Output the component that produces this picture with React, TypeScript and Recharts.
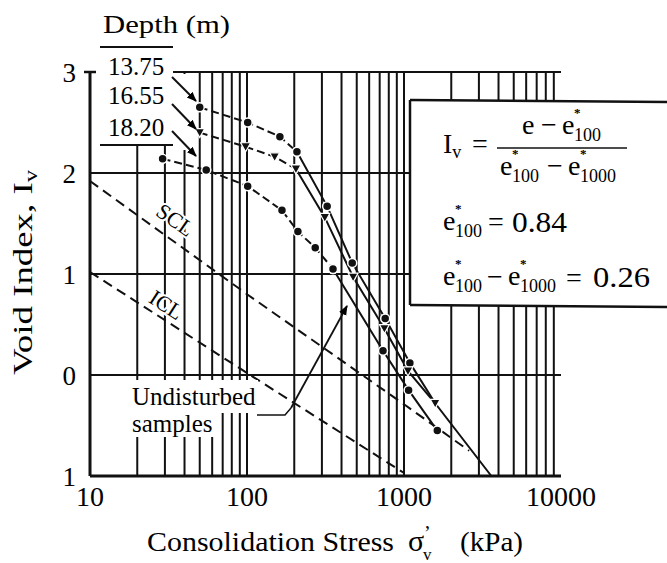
import React from "react";
import { ComposedChart, Line, XAxis, YAxis, ReferenceLine } from "recharts";

const SERIF = '"Liberation Serif", "Times New Roman", serif';
const W = 667;
const H = 563;

// consolidation stress (kPa) / void index
const D1375_X = [50, 101, 162, 208, 324, 468, 759, 1090];
const D1375_Y = [2.65, 2.5, 2.36, 2.21, 1.67, 1.11, 0.56, 0.12];
const D1655_X = [50, 98, 150, 205, 313, 474, 750, 1060, 1580];
const D1655_Y = [2.4, 2.26, 2.16, 2.04, 1.56, 0.97, 0.46, 0.04, -0.28];
const D1820_X = [29, 55, 101, 167, 211, 272, 353, 735, 1070, 1630];
const D1820_Y = [2.14, 2.03, 1.87, 1.63, 1.42, 1.26, 1.05, 0.24, -0.15, -0.55];
// continuation of the upper curves below the last points
const TAIL_X = [1090, 1580, 3600];
const TAIL_Y = [0.12, -0.28, -1.0];
const SCL_X = [10, 100, 1000, 2600];
const SCL_Y = [1.92, 0.8, -0.29, -0.75];
const ICL_X = [10, 100, 1000];
const ICL_Y = [1.02, 0.02, -0.97];

const X_TICKS = [10, 100, 1000, 10000];
const Y_TICKS = [-1, 0, 1, 2, 3];
const X_GRID = [
  20, 30, 40, 50, 60, 70, 80, 90, 100,
  200, 300, 400, 500, 600, 700, 800, 900, 1000,
  2000, 3000, 4000, 5000, 6000, 7000, 8000, 9000,
];
const Y_GRID = [0, 1, 2, 3];

const rows = (xs: number[], ys: number[]) => xs.map((x, i) => ({ x, y: ys[i] }));

const s1 = rows(D1375_X, D1375_Y);
const s2 = rows(D1655_X, D1655_Y);
const s3 = rows(D1820_X, D1820_Y);

const Circle = (p: any) => {
  if (p.cx == null || p.cy == null) return <g key={p.index} />;
  return <circle key={`c${p.index}`} cx={p.cx} cy={p.cy} r={4.5} fill="#111" stroke="#fff" strokeWidth={1.5} />;
};
const Tri = (p: any) => {
  if (p.cx == null || p.cy == null) return <g key={p.index} />;
  const { cx, cy } = p;
  return (
    <path
      key={`t${p.index}`}
      d={`M${cx - 5},${cy - 4} L${cx + 5},${cy - 4} L${cx},${cy + 5} Z`}
      fill="#111" stroke="#fff" strokeWidth={1.2}
    />
  );
};

// e* with a subscript, as in the formula box
const EStar = ({ x, y, sub }: { x: number; y: number; sub: string }) => (
  <>
    <text x={x} y={y} fontSize={28}>e</text>
    <text x={x + 12} y={y - 17} fontSize={13} fontWeight="bold">*</text>
    <text x={x + 12} y={y + 7} fontSize={18}>{sub}</text>
  </>
);

export default function App() {
  return (
    <div style={{ position: "absolute", left: 0, top: 0, width: W, height: H, background: "#fff" }}>
      <ComposedChart width={W} height={H} margin={{ top: 72, right: 106, bottom: 47, left: 50 }}
        style={{ fontFamily: SERIF }}>
        <XAxis
          type="number" dataKey="x" scale="log" domain={[10, 10000]} ticks={X_TICKS}
          allowDataOverflow axisLine={false} tickLine={false} tickMargin={4} height={40}
          tick={{ fontSize: 28, fill: "#000", fontFamily: SERIF }}
        />
        <YAxis
          type="number" domain={[-1, 3]} ticks={Y_TICKS} width={40}
          axisLine={false} tickLine={false} tickMargin={8}
          tickFormatter={(v: number) => String(Math.abs(v))}
          tick={{ fontSize: 27, fill: "#000", fontFamily: SERIF }}
        />
        {X_GRID.map(v => (
          <ReferenceLine key={`gx${v}`} x={v} stroke="#111" strokeWidth={v === 10000 ? 2.5 : 2} />
        ))}
        {Y_GRID.map(v => (
          <ReferenceLine key={`gy${v}`} y={v} stroke="#111" strokeWidth={2} />
        ))}
        <ReferenceLine x={10} stroke="#111" strokeWidth={3} />
        <ReferenceLine y={-1} stroke="#111" strokeWidth={3} />

        <Line data={rows(SCL_X, SCL_Y)} dataKey="y" stroke="#111" strokeWidth={2}
          strokeDasharray="10 6" dot={false} isAnimationActive={false} />
        <Line data={rows(ICL_X, ICL_Y)} dataKey="y" stroke="#111" strokeWidth={2}
          strokeDasharray="10 6" dot={false} isAnimationActive={false} />
        <Line data={rows(TAIL_X, TAIL_Y)} dataKey="y" stroke="#111" strokeWidth={2}
          dot={false} isAnimationActive={false} />

        <Line data={s1.slice(0, 4)} dataKey="y" stroke="#111" strokeWidth={2}
          strokeDasharray="8 4" dot={Circle} isAnimationActive={false} />
        <Line data={s1.slice(3)} dataKey="y" stroke="#111" strokeWidth={2}
          dot={Circle} isAnimationActive={false} />
        <Line data={s2.slice(0, 4)} dataKey="y" stroke="#111" strokeWidth={2}
          strokeDasharray="8 4" dot={Tri} isAnimationActive={false} />
        <Line data={s2.slice(3)} dataKey="y" stroke="#111" strokeWidth={2}
          dot={Tri} isAnimationActive={false} />
        <Line data={s3.slice(0, 7)} dataKey="y" stroke="#111" strokeWidth={2}
          strokeDasharray="8 4" dot={Circle} isAnimationActive={false} />
        <Line data={s3.slice(6)} dataKey="y" stroke="#111" strokeWidth={2}
          dot={Circle} isAnimationActive={false} />
      </ComposedChart>

      <svg width={W} height={H} style={{ position: "absolute", left: 0, top: 0, fontFamily: SERIF }}
        fill="#000">
        <defs>
          <marker id="ah" viewBox="0 0 10 10" refX="9" refY="5" markerUnits="userSpaceOnUse"
            markerWidth="10" markerHeight="10" orient="auto">
            <path d="M0,1 L10,5 L0,9 z" fill="#000" />
          </marker>
        </defs>

        {/* white patches where the original hides the grid */}
        <rect x={96} y={50} width={77} height={94} fill="#fff" />
        <rect x={179} y={74} width={10} height={76} fill="#fff" />
        <rect x={127} y={380} width={91} height={57} fill="#fff" />
        <rect x={218} y={380} width={40} height={33} fill="#fff" />
        <rect x={410} y={100} width={257} height={205} fill="#fff" />

        {/* formula box */}
        <g stroke="#111" strokeWidth={2.5}>
          <line x1={410} y1={100} x2={667} y2={102} />
          <line x1={410} y1={305} x2={667} y2={307} />
          <line x1={410} y1={100} x2={410} y2={305} />
        </g>
        <text x={443} y={153} fontSize={28}>I<tspan fontSize={18} dy={5}>v</tspan></text>
        <text x={472} y={153} fontSize={28}>=</text>
        <text x={522} y={134} fontSize={28}>e</text>
        <text x={541} y={134} fontSize={28}>−</text>
        <EStar x={562} y={134} sub="100" />
        <line x1={497} y1={148} x2={627} y2={148} stroke="#111" strokeWidth={1.5} />
        <EStar x={500} y={175} sub="100" />
        <text x={547} y={175} fontSize={28}>−</text>
        <EStar x={568} y={175} sub="1000" />
        <EStar x={443} y={230} sub="100" />
        <text x={488} y={231} fontSize={28}>=</text>
        <text x={512} y={232} fontSize={29} textLength={55} lengthAdjust="spacingAndGlyphs">0.84</text>
        <EStar x={443} y={285} sub="100" />
        <text x={487} y={286} fontSize={28}>−</text>
        <EStar x={508} y={285} sub="1000" />
        <text x={566} y={287} fontSize={28}>=</text>
        <text x={593} y={287} fontSize={29} textLength={57} lengthAdjust="spacingAndGlyphs">0.26</text>

        {/* depth legend */}
        <line x1={84} y1={72} x2={96} y2={72} stroke="#111" strokeWidth={2.5} />
        <text x={103} y={33} fontSize={25} textLength={127} lengthAdjust="spacingAndGlyphs">Depth (m)</text>
        <line x1={100} y1={47} x2={173} y2={47} stroke="#111" strokeWidth={2} />
        <text x={108} y={75} fontSize={25}>13.75</text>
        <text x={108} y={104} fontSize={25}>16.55</text>
        <text x={108} y={136} fontSize={25}>18.20</text>
        <line x1={100} y1={145} x2={173} y2={145} stroke="#111" strokeWidth={2} />
        <g stroke="#111" strokeWidth={2}>
          <line x1={172} y1={77} x2={196} y2={101} markerEnd="url(#ah)" />
          <line x1={172} y1={104} x2={196} y2={129} markerEnd="url(#ah)" />
          <line x1={172} y1={131} x2={196} y2={156} markerEnd="url(#ah)" />
        </g>

        {/* line labels */}
        <text x={174} y={222} fontSize={22} textAnchor="middle" dominantBaseline="middle"
          transform="rotate(35 174 222)" stroke="#fff" strokeWidth={4} paintOrder="stroke">SCL</text>
        <text x={165} y={307} fontSize={22} textAnchor="middle" dominantBaseline="middle"
          transform="rotate(33 165 307)" stroke="#fff" strokeWidth={4} paintOrder="stroke">ICL</text>

        {/* undisturbed samples note */}
        <text x={132} y={405} fontSize={25}>Undisturbed</text>
        <text x={132} y={432} fontSize={25}>samples</text>
        <polyline points="257,415 285,415 291,408" fill="none" stroke="#111" strokeWidth={1.5} />
        <line x1={291} y1={408} x2={347} y2={306} stroke="#111" strokeWidth={1.8} markerEnd="url(#ah)" />

        {/* axis titles */}
        <text x={147} y={551} fontSize={27} textLength={247} lengthAdjust="spacingAndGlyphs">
          Consolidation Stress
        </text>
        <text x={408} y={551} fontSize={30}>σ</text>
        <text x={424} y={540} fontSize={20}>’</text>
        <text x={423} y={560} fontSize={17}>v</text>
        <text x={460} y={551} fontSize={27} textLength={63} lengthAdjust="spacingAndGlyphs">(kPa)</text>
        <text x={32} y={375} fontSize={27} textLength={205} lengthAdjust="spacingAndGlyphs"
          transform="rotate(-90 32 375)">
          Void Index, I<tspan fontSize={18} dy={5}>v</tspan>
        </text>
      </svg>
    </div>
  );
}
